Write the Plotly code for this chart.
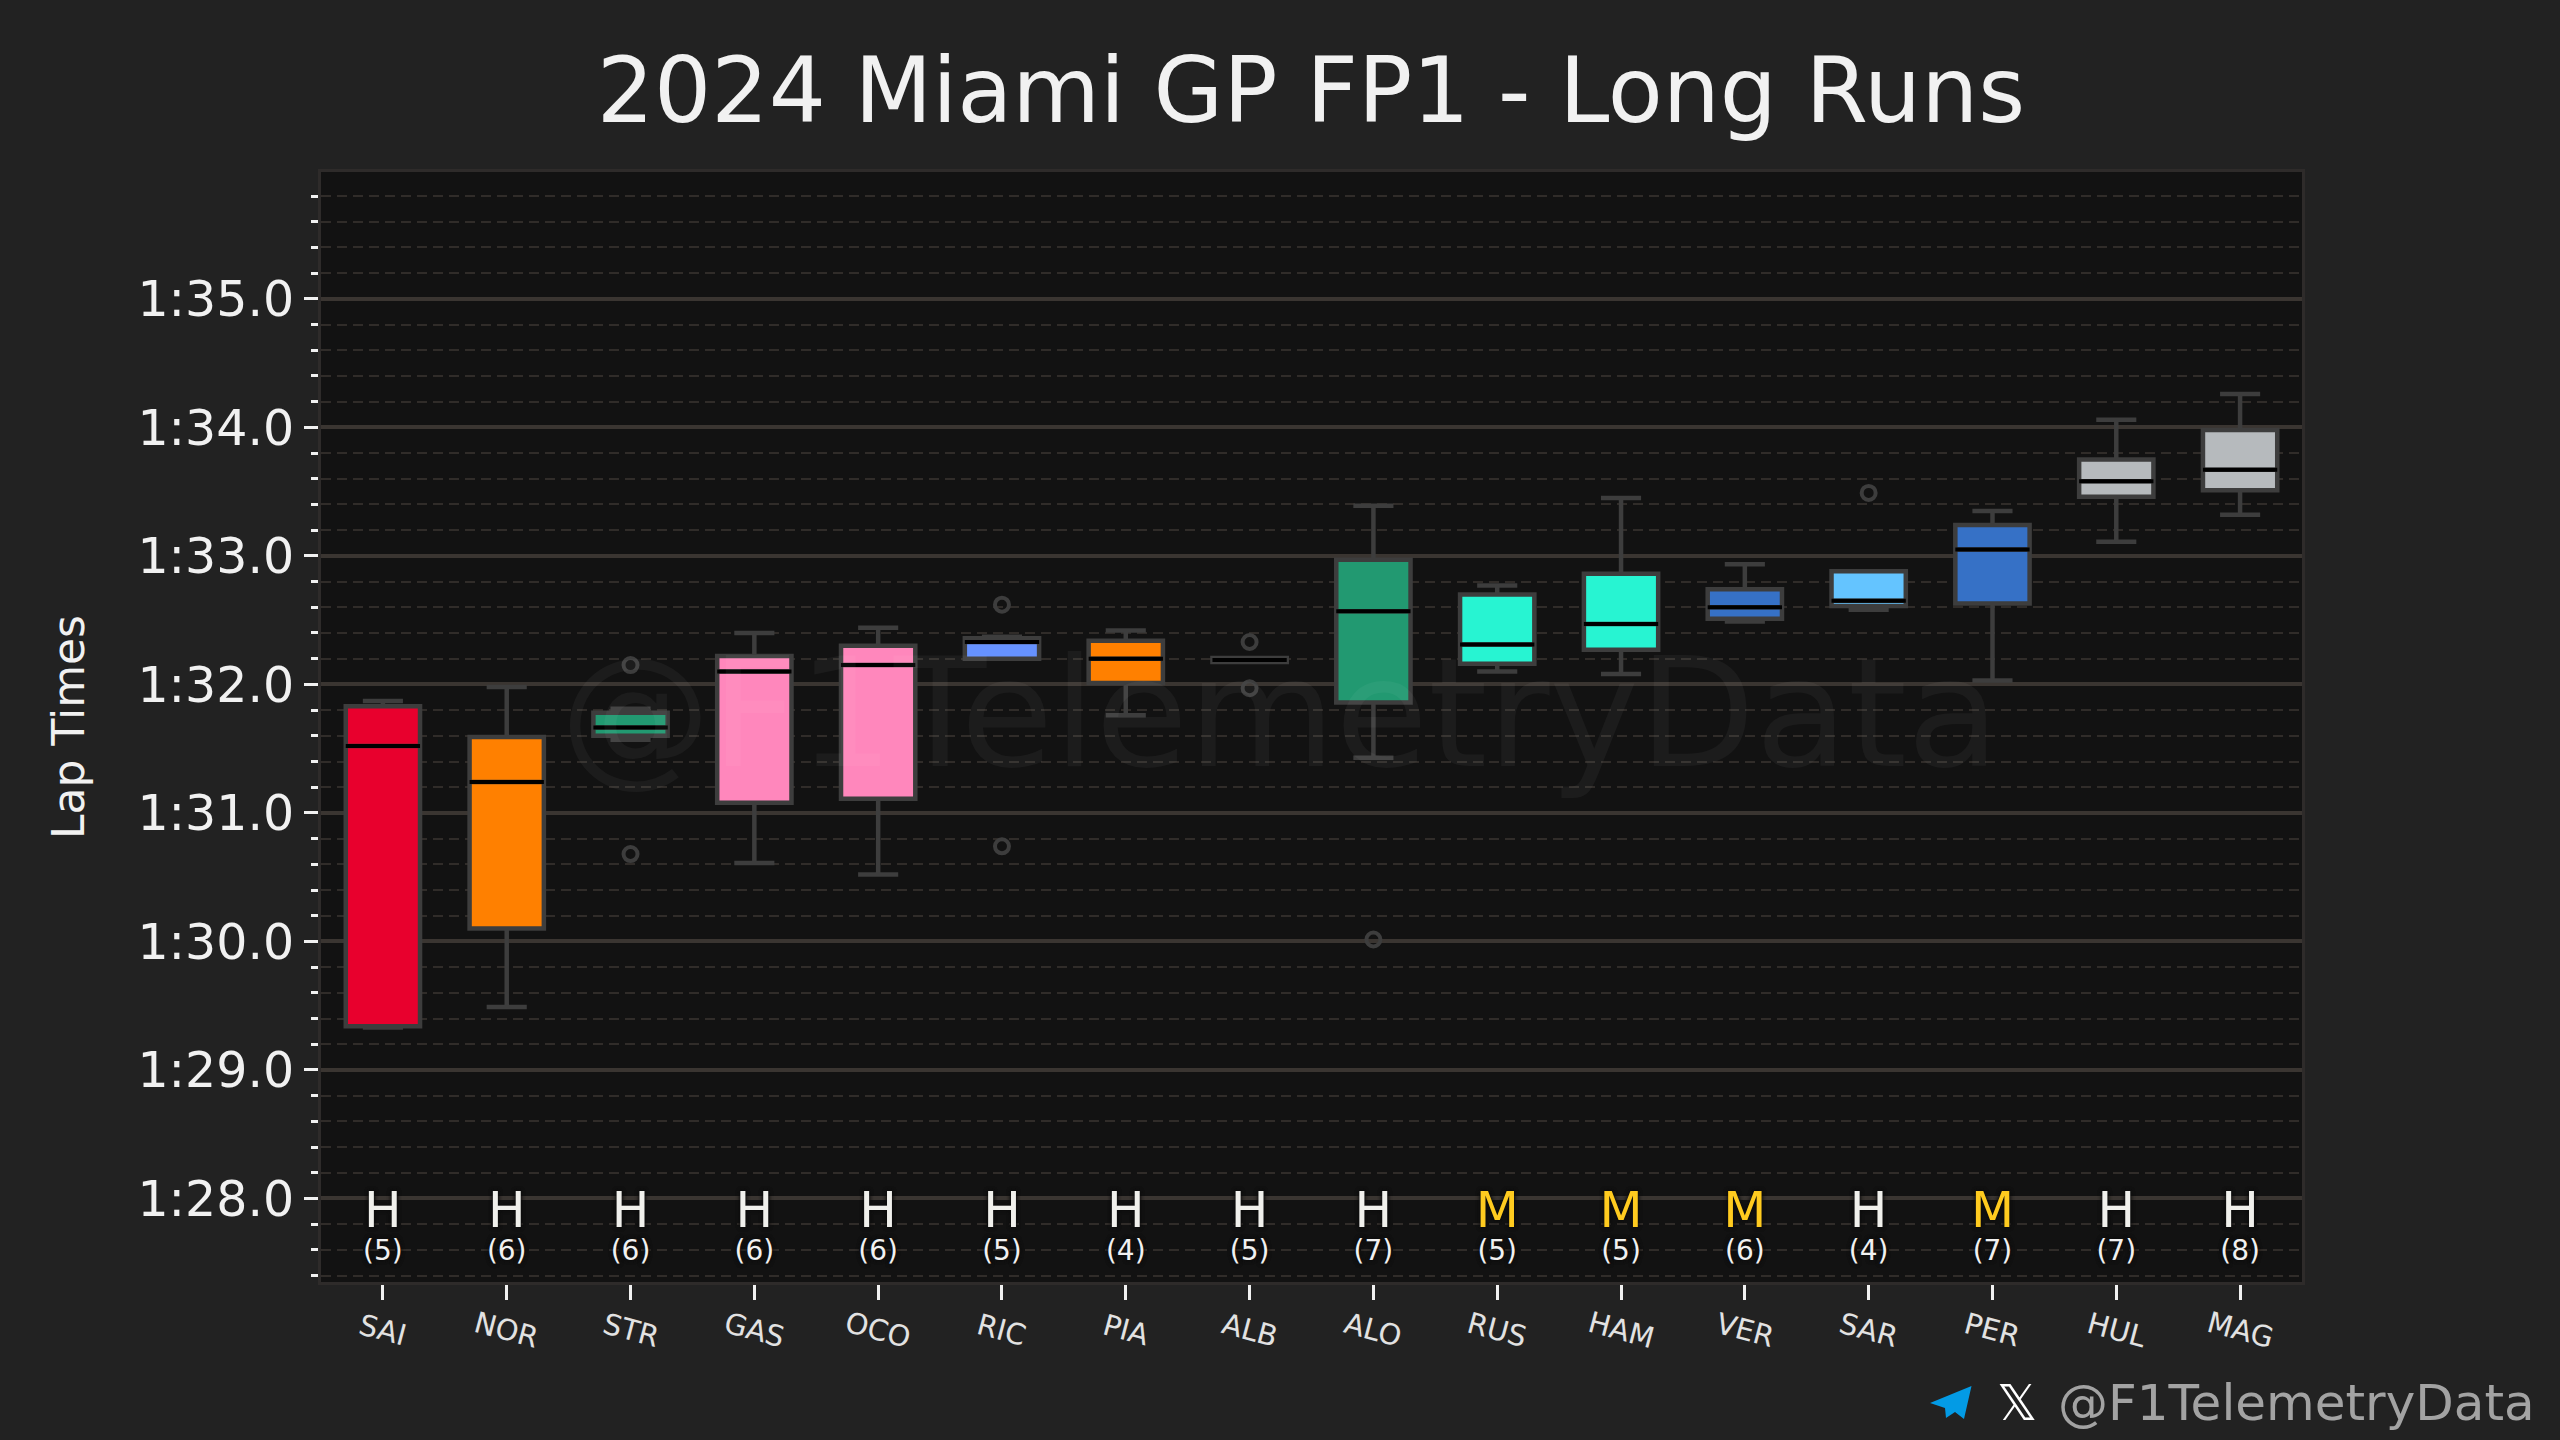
import plotly.graph_objects as go

drivers = ["SAI","NOR","STR","GAS","OCO","RIC","PIA","ALB","ALO","RUS","HAM","VER","SAR","PER","HUL","MAG"]
colors = ["#e8002d","#ff8000","#229971","#ff87bc","#ff87bc","#6692ff","#ff8000","#64c4ff",
          "#229971","#27f4d2","#27f4d2","#3671c6","#64c4ff","#3671c6","#b6babd","#b6babd"]
q1 = [89.34,90.10,91.60,91.08,91.11,92.20,92.01,92.175,91.86,92.16,92.27,92.51,92.61,92.63,93.46,93.51]
medians = [91.52,91.24,91.665,92.10,92.15,92.33,92.20,92.19,92.57,92.31,92.47,92.60,92.65,93.05,93.58,93.67]
q3 = [91.83,91.59,91.78,92.22,92.30,92.36,92.34,92.205,92.97,92.70,92.86,92.74,92.88,93.24,93.75,93.98]
whisker_low = [89.33,89.49,91.57,90.61,90.52,92.20,91.76,92.175,91.43,92.10,92.08,92.49,92.58,92.03,93.11,93.32]
whisker_high = [91.87,91.98,91.81,92.40,92.44,92.37,92.42,92.205,93.39,92.77,93.45,92.935,92.88,93.35,94.06,94.26]
outliers = [[],[],[92.15,90.68],[],[],[92.62,90.74],[],[92.33,91.97],[90.015],[],[],[],[93.49],[],[],[]]
compounds = ["H","H","H","H","H","H","H","H","H","M","M","M","H","M","H","H"]
lap_counts = [5,6,6,6,6,5,4,5,7,5,5,6,4,7,7,8]
compound_colors = {"H":"#f0f0ec","M":"#ffcb1f"}
y_ticks = [88,89,90,91,92,93,94,95]
y_labels = ["1:28.0","1:29.0","1:30.0","1:31.0","1:32.0","1:33.0","1:34.0","1:35.0"]

FONT = "DejaVu Sans"
BOX_LINE = "#3d3d3d"
TEXT = "#f1f1f1"
W = 0.6

fig = go.Figure()
for i, d in enumerate(drivers):
    fig.add_trace(go.Box(
        name=d, x=[i], q1=[q1[i]], median=[medians[i]], q3=[q3[i]],
        lowerfence=[whisker_low[i]], upperfence=[whisker_high[i]],
        width=W, whiskerwidth=0.54, boxpoints=False,
        fillcolor=colors[i], line=dict(color=BOX_LINE, width=4.5), hoverinfo="skip"))

mx, my = [], []
for i, m in enumerate(medians):
    mx += [i - W/2, i + W/2, None]
    my += [m, m, None]
fig.add_trace(go.Scatter(x=mx, y=my, mode="lines", line=dict(color="#000000", width=4), hoverinfo="skip"))

ox = [i for i, o in enumerate(outliers) for _ in o]
oy = [v for o in outliers for v in o]
fig.add_trace(go.Scatter(x=ox, y=oy, mode="markers", hoverinfo="skip",
    marker=dict(size=14, color="rgba(0,0,0,0)", line=dict(color=BOX_LINE, width=4))))

SHADOW = "0 0 4px #0c0c0c, 0 0 4px #0c0c0c"
fig.add_trace(go.Scatter(x=list(range(len(drivers))), y=[87.875]*len(drivers), mode="text",
    text=compounds, textposition="middle center", hoverinfo="skip",
    textfont=dict(family=FONT, size=50, color=[compound_colors[c] for c in compounds], shadow=SHADOW)))
fig.add_trace(go.Scatter(x=list(range(len(drivers))), y=[87.575]*len(drivers), mode="text",
    text=[f"({n})" for n in lap_counts], textposition="middle center", hoverinfo="skip",
    textfont=dict(family=FONT, size=28, color=TEXT, shadow=SHADOW)))

PL, PR, PT, PB = 321, 258, 172, 158
PW, PH = 2560-PL-PR, 1440-PT-PB
def fx(px): return (px-PL)/PW
def fy(py): return (1440-PB-py)/PH

annotations = [dict(text=d, x=i, xref="x", y=0, yref="paper", yanchor="middle", xanchor="center",
                    yshift=-48, textangle=15, showarrow=False,
                    font=dict(family=FONT, size=29, color="#e2e2e2"))
               for i, d in enumerate(drivers)]
annotations += [
    dict(text="@F1TelemetryData", x=0.484, xref="paper", y=0.512, yref="paper", showarrow=False,
         xanchor="center", yanchor="middle", font=dict(family=FONT, size=151, color="rgba(255,255,255,0.045)")),
    dict(text="@F1TelemetryData", x=fx(2056), xref="paper", y=fy(1403), yref="paper",
         showarrow=False, xanchor="left", yanchor="middle",
         font=dict(family=FONT, size=50, color="#a3a3a3")),
    dict(text="𝕏", x=fx(2017), y=fy(1403), xref="paper", yref="paper", showarrow=False,
         xanchor="center", yanchor="middle", font=dict(family=FONT, size=50, color="#ffffff")),
]

plane = [(1971.5,1386),(1930,1403),(1945,1408),(1946,1418),(1955,1412),(1964,1419)]
path = "M " + " L ".join(f"{fx(a):.5f},{fy(b):.5f}" for a, b in plane) + " Z"
shapes = [dict(type="path", path=path, xref="paper", yref="paper", fillcolor="#039be5", line=dict(width=0), layer="above")]

fig.update_layout(
    width=2560, height=1440, autosize=False,
    margin=dict(l=PL, r=PR, t=PT, b=PB, pad=0),
    paper_bgcolor="#222222", plot_bgcolor="#121212",
    showlegend=False, boxmode="overlay",
    title=dict(text="2024 Miami GP FP1 - Long Runs", x=0.5121, xanchor="center",
               y=1-90/1440, yanchor="middle", font=dict(family=FONT, size=90, color=TEXT)),
    annotations=annotations, shapes=shapes,
    xaxis=dict(range=[-0.5,15.5], tickmode="array", tickvals=list(range(len(drivers))), ticktext=drivers,
               showticklabels=False, showgrid=False, zeroline=False,
               ticks="outside", ticklen=15, tickwidth=3, tickcolor=TEXT,
               showline=True, linecolor="#2e2b2a", linewidth=3, mirror=True),
    yaxis=dict(range=[87.35,95.987], tickmode="array", tickvals=y_ticks, ticktext=y_labels,
               title=dict(text="Lap Times", font=dict(family=FONT, size=44, color=TEXT), standoff=40),
               tickfont=dict(family=FONT, size=49, color=TEXT),
               ticks="outside", ticklen=14, tickwidth=3, tickcolor=TEXT, zeroline=False,
               showgrid=True, gridcolor="#3a3531", gridwidth=3.5,
               showline=True, linecolor="#2e2b2a", linewidth=3, mirror=True,
               minor=dict(tickmode="linear", dtick=0.2, tick0=87.4, ticks="outside", ticklen=7, tickwidth=3,
                          tickcolor=TEXT, showgrid=True, gridcolor="#302c29", gridwidth=2, griddash="10px,6px")),
)
fig.write_html("out.html", post_script="document.body.style.margin='0';", config=dict(displayModeBar=False))
